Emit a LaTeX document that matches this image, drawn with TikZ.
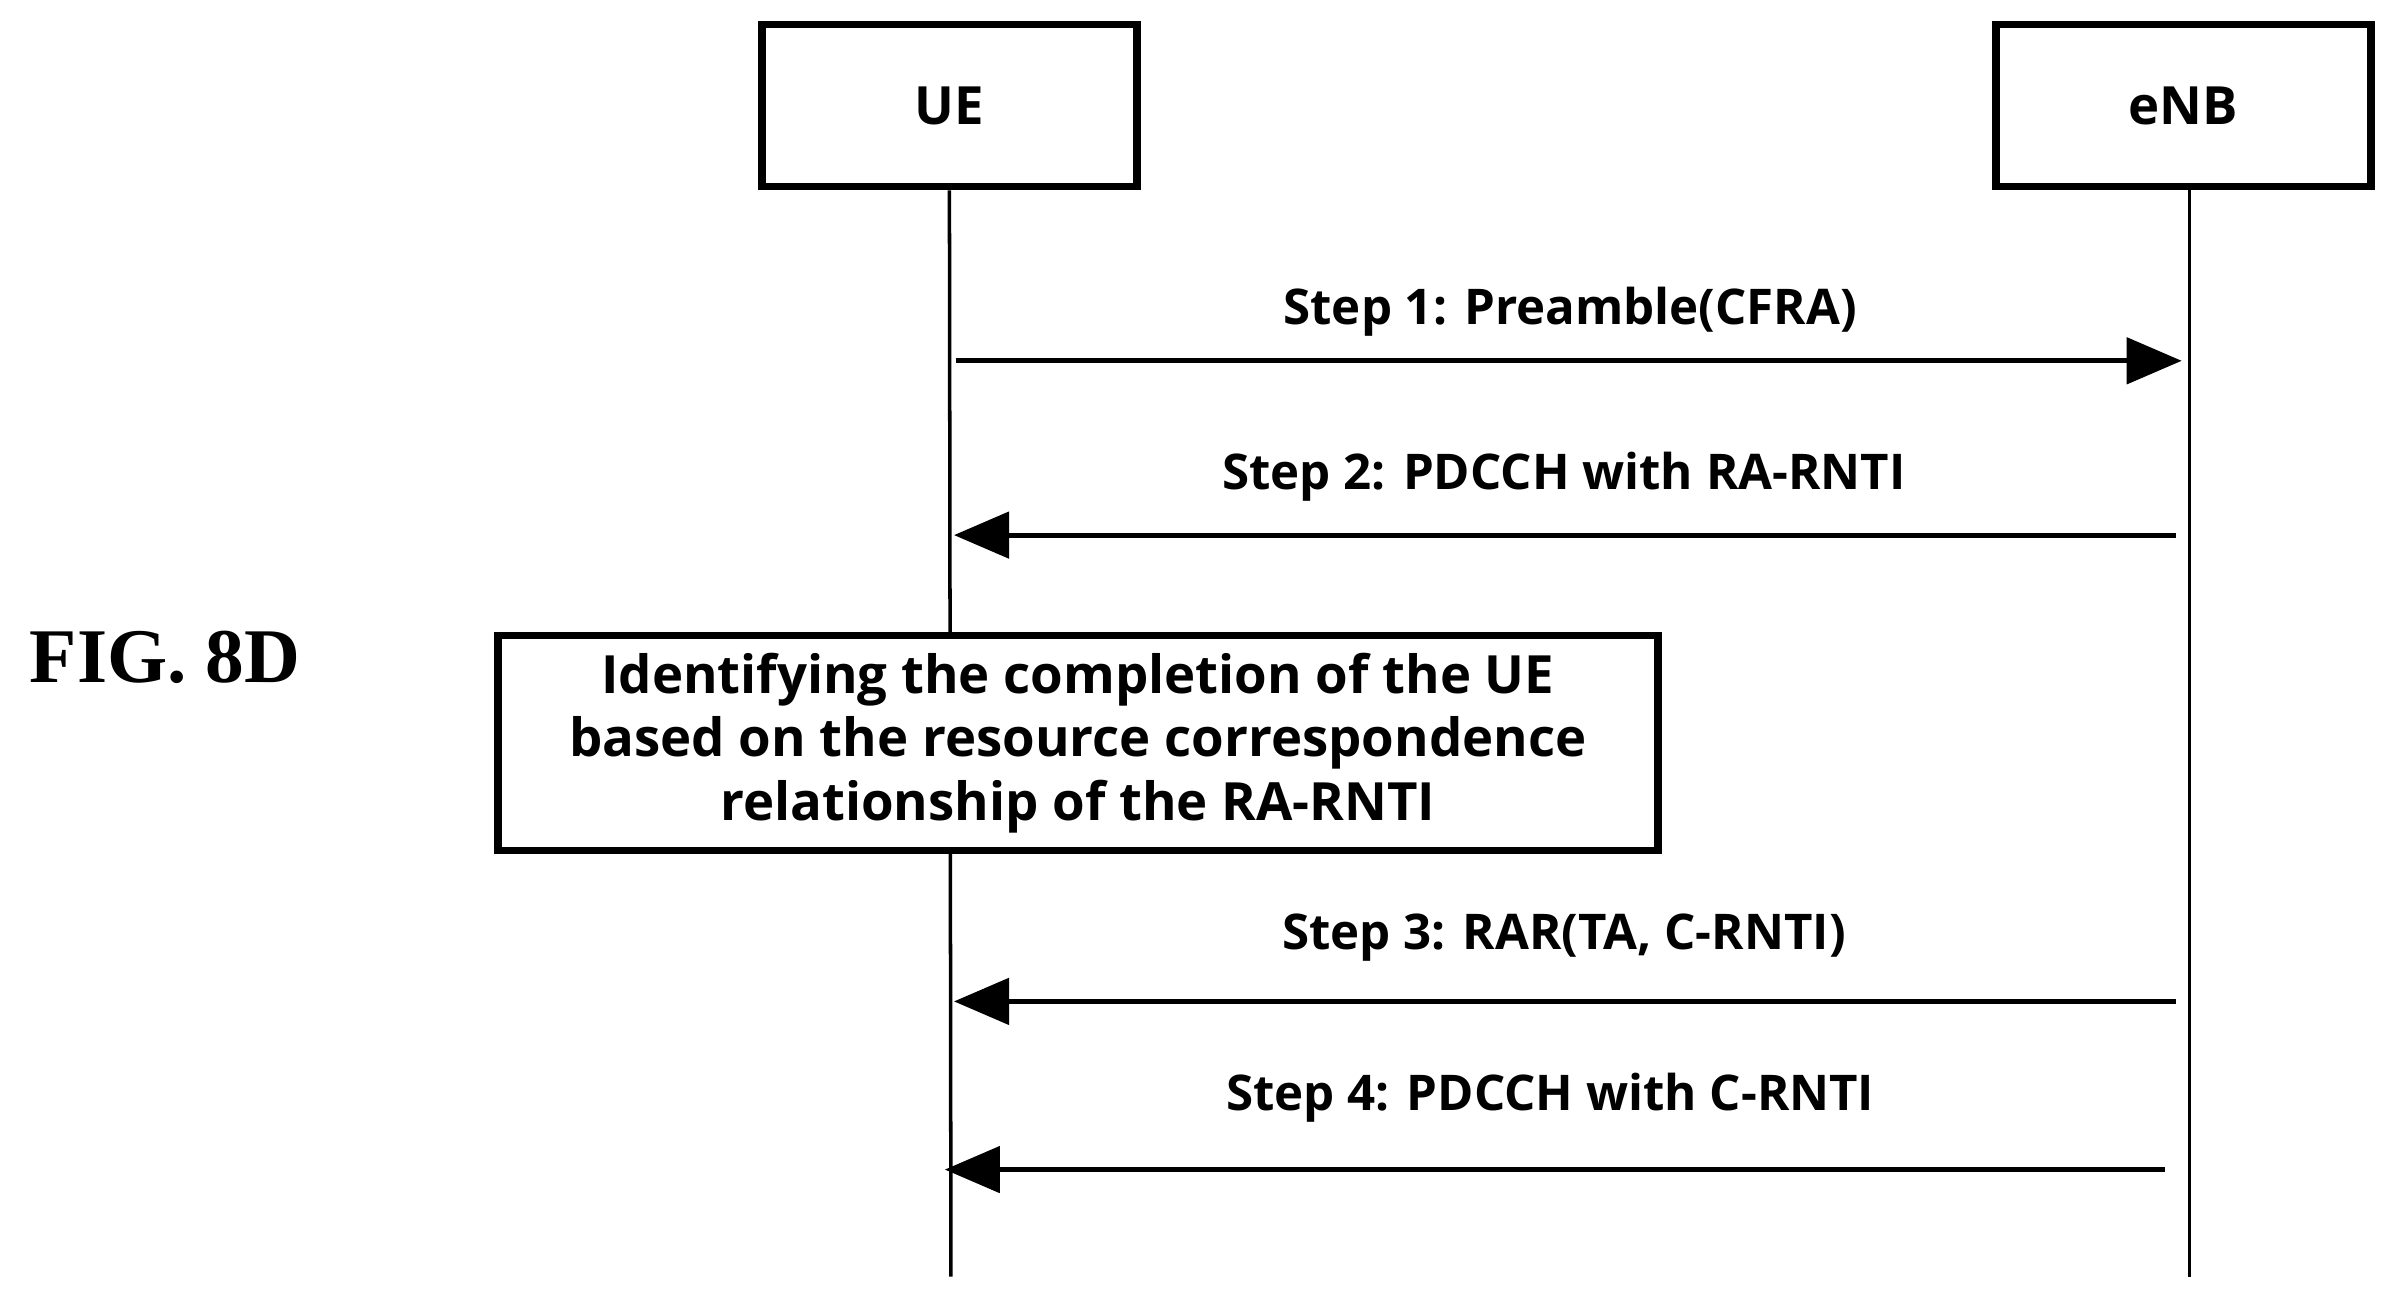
\documentclass[tikz,border=0pt]{standalone}
\usepackage{fontspec}
\setmainfont{Open Sans}
\newfontfamily\figfont{Liberation Serif}
\usetikzlibrary{arrows.meta,positioning}

\tikzset{
  entity/.style={draw, line width=2.2pt, minimum width=3.75cm, minimum height=1.62cm, font=\fontsize{15}{18}\selectfont\bfseries},
  lifeline/.style={draw, line width=1pt},
  msg/.style={draw, line width=1.4pt, -{Triangle[length=0.55cm,width=0.46cm]}},
  label/.style={font=\fontsize{14}{17}\selectfont\bfseries},
  note/.style={draw, line width=2.2pt, align=center, minimum width=11.6cm, minimum height=2.15cm, font=\fontsize{15}{18}\selectfont\bfseries}
}

\begin{document}
\begin{tikzpicture}[x=0.01529cm, y=-0.01529cm]
    \useasboundingbox (0,0) rectangle (1560,845);

    % entities
    \node[entity] (ue) at (621,69) {UE};
    \node[entity] (enb) at (1428,69) {eNB};
    \coordinate (ueEnd) at (622,835);
    \coordinate (enbEnd) at (1432,835);

    % lifelines
    \draw [lifeline] (ue.south) -- (ueEnd);
    \draw [lifeline] (enb.south -| enbEnd) -- (enbEnd);

    % messages
    \coordinate (a1) at (625,236);  \coordinate (b1) at (1427,236);
    \coordinate (a2) at (624,350);  \coordinate (b2) at (1423,350);
    \coordinate (a3) at (624,655);  \coordinate (b3) at (1423,655);
    \coordinate (a4) at (618,765);  \coordinate (b4) at (1416,765);
    \draw [msg] (a1) -- (b1);
    \draw [msg] (b2) -- (a2);
    \draw [msg] (b3) -- (a3);
    \draw [msg] (b4) -- (a4);

    % labels
    \node[label] (l1) at (1027,204) {Step 1: Preamble(CFRA)};
    \node[label] (l2) at (1023,312) {Step 2: PDCCH with RA-RNTI};
    \node[label] (l3) at (1023,613) {Step 3: RAR(TA, C-RNTI)};
    \node[label] (l4) at (1014,718) {Step 4: PDCCH with C-RNTI};

    % note
    \node[note, fill=white] (ident) at (705,486) {Identifying the completion of the UE\\based on the resource correspondence\\relationship of the RA-RNTI};

    \node[font=\figfont\fontsize{22}{26}\selectfont\bfseries] (fig) at (108,430) {FIG. 8D};
\end{tikzpicture}
\end{document}
